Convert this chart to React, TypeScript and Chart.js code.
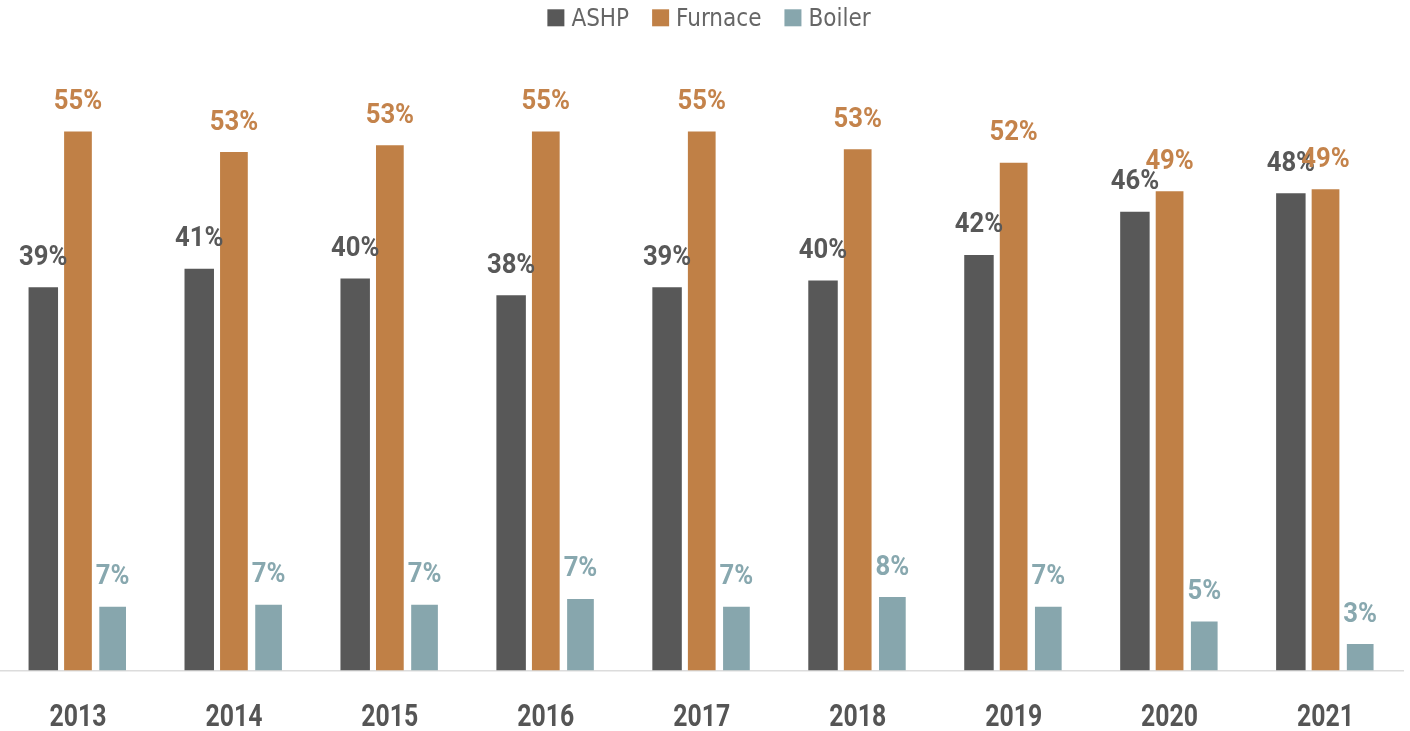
import React, { useEffect, useRef } from "react";
import { Chart, registerables } from "chart.js";

Chart.register(...registerables);

const years = ["2013", "2014", "2015", "2016", "2017", "2018", "2019", "2020", "2021"];
const ashpValues = [39.1, 41.0, 40.0, 38.3, 39.1, 39.8, 42.4, 46.8, 48.7];
const furnaceValues = [55.0, 52.9, 53.6, 55.0, 55.0, 53.2, 51.8, 48.9, 49.1];
const boilerValues = [6.5, 6.7, 6.7, 7.3, 6.5, 7.5, 6.5, 5.0, 2.7];
const ashpLabels = ["39%", "41%", "40%", "38%", "39%", "40%", "42%", "46%", "48%"];
const furnaceLabels = ["55%", "53%", "53%", "55%", "55%", "53%", "52%", "49%", "49%"];
const boilerLabels = ["7%", "7%", "7%", "7%", "7%", "8%", "7%", "5%", "3%"];

const FONT = "'DejaVu Sans Condensed', 'DejaVu Sans', sans-serif";
const NUM_FONT = "Roboto, 'DejaVu Sans Condensed', sans-serif";

const valueLabelPlugin = {
  id: "valueLabels",
  afterDatasetsDraw(chart: any) {
    const ctx = chart.ctx;
    chart.data.datasets.forEach((ds: any, i: number) => {
      const meta = chart.getDatasetMeta(i);
      ctx.save();
      ctx.font = `bold 28.5px ${NUM_FONT}`;
      ctx.fillStyle = ds.labelColor;
      ctx.textAlign = "center";
      ctx.textBaseline = "alphabetic";
      meta.data.forEach((el: any, j: number) => {
        const t = ds.valueLabels[j];
        const w = ctx.measureText(t).width;
        ctx.fillText(t, el.x, el.y - 22.5, w * 0.9);
      });
      ctx.restore();
    });
  },
};

const yearLabelPlugin = {
  id: "yearLabels",
  afterDraw(chart: any) {
    const ctx = chart.ctx;
    const xs = chart.scales.x;
    ctx.save();
    ctx.font = `bold 31px ${NUM_FONT}`;
    ctx.fillStyle = "#555555";
    ctx.textAlign = "center";
    ctx.textBaseline = "alphabetic";
    xs.getLabels().forEach((lab: string, i: number) => {
      const w = ctx.measureText(lab).width;
      ctx.fillText(lab, xs.getPixelForTick(i), chart.chartArea.bottom + 55, Math.min(w, 57));
    });
    ctx.restore();
  },
};

const legendPlugin = {
  id: "customLegend",
  afterDraw(chart: any) {
    const ctx = chart.ctx;
    ctx.save();
    ctx.font = `24px ${FONT}`;
    const box = 17;
    const gap = 7;
    const spacing = 23;
    const items = chart.data.datasets.map((ds: any) => ({
      text: ds.label,
      color: ds.backgroundColor,
      w: ctx.measureText(ds.label).width,
    }));
    const total =
      items.reduce((s: number, it: any) => s + box + gap + it.w, 0) + spacing * (items.length - 1);
    let x = 709 - total / 2;
    ctx.textAlign = "left";
    ctx.textBaseline = "alphabetic";
    items.forEach((it: any) => {
      ctx.fillStyle = it.color;
      ctx.fillRect(x, 9.3, box, box);
      ctx.fillStyle = "#666666";
      ctx.fillText(it.text, x + box + gap, 26);
      x += box + gap + it.w + spacing;
    });
    ctx.restore();
  },
};

export default function App() {
  const canvasRef = useRef<HTMLCanvasElement | null>(null);

  useEffect(() => {
    document.body.style.margin = "0";
    document.body.style.overflow = "hidden";
    const canvas = canvasRef.current;
    if (!canvas) return;
    const chart = new Chart(canvas, {
      type: "bar",
      data: {
        labels: years,
        datasets: [
          {
            label: "ASHP",
            data: ashpValues,
            backgroundColor: "#585858",
            labelColor: "#585858",
            valueLabels: ashpLabels,
            barPercentage: 0.85,
            categoryPercentage: 0.667,
          } as any,
          {
            label: "Furnace",
            data: furnaceValues,
            backgroundColor: "#c08046",
            labelColor: "#c4834b",
            valueLabels: furnaceLabels,
            barPercentage: 0.8,
            categoryPercentage: 0.667,
          } as any,
          {
            label: "Boiler",
            data: boilerValues,
            backgroundColor: "#87a6ad",
            labelColor: "#88a8af",
            valueLabels: boilerLabels,
            barPercentage: 0.77,
            categoryPercentage: 0.667,
          } as any,
        ],
      },
      options: {
        responsive: false,
        animation: false,
        layout: { padding: { top: 82.5, bottom: 60.5, left: 0, right: 6.5 } },
        plugins: {
          legend: { display: false },
          tooltip: { enabled: false },
        },
        scales: {
          x: {
            grid: { display: false, drawTicks: false },
            border: { display: true, color: "#dcdcdc", width: 1.5 },
            ticks: { display: false },
          },
          y: {
            display: false,
            min: 0,
            max: 60,
          },
        },
      },
      plugins: [valueLabelPlugin, yearLabelPlugin, legendPlugin],
    });
    return () => chart.destroy();
  }, []);

  return (
    <div style={{ width: 1410, height: 731, background: "#ffffff" }}>
      <canvas ref={canvasRef} width={1410} height={731} />
    </div>
  );
}
